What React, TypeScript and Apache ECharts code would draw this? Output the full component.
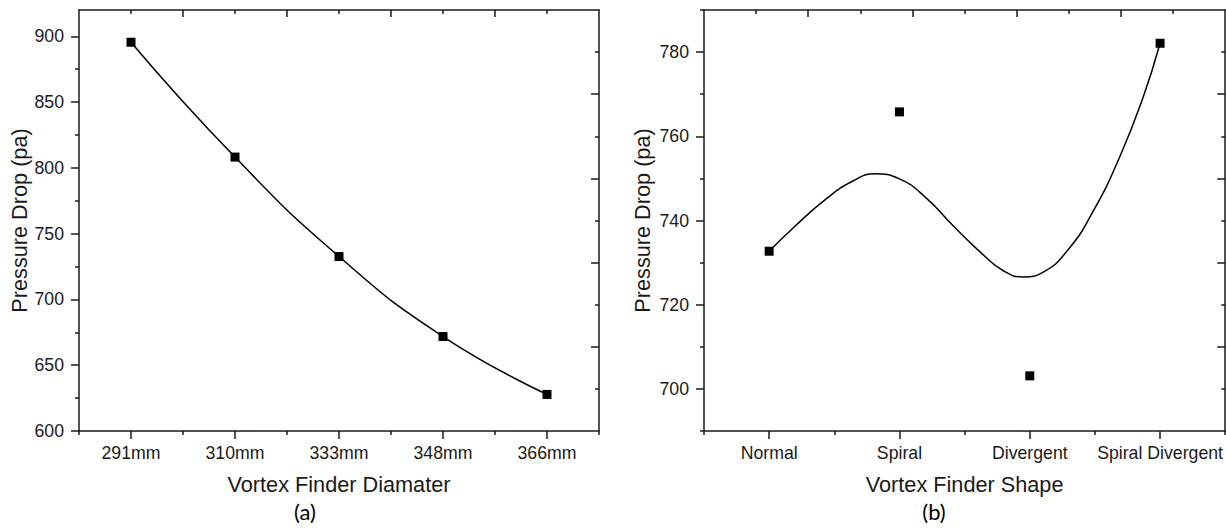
import React, { useEffect, useRef } from "react";
import * as echarts from "echarts";

// ---- Chart (a) data ----
const diameterCategories = ["291mm", "310mm", "333mm", "348mm", "366mm"];
const diameterPressure = [895.5, 808.2, 732.6, 671.8, 627.8];

// ---- Chart (b) data ----
const shapeCategories = ["Normal", "Spiral", "Divergent", "Spiral Divergent"];
const shapePressure = [732.7, 765.8, 703.1, 782.1];
// fitted curve of chart (b) (x in category units)
const shapeCurveX = [0, 0.19, 0.44, 0.65, 0.81, 1.0, 1.21, 1.41, 1.62, 1.8, 1.95, 2.1, 2.29, 2.49, 2.69, 2.87, 3.0];
const shapeCurveY = [732.7, 738.4, 745.2, 749.5, 751.1, 749.9, 745.2, 738.8, 732.5, 728.0, 726.6, 727.7, 732.9, 742.4, 755.1, 769.3, 782.1];

// ---- tick values ----
const aYLabels = [600, 650, 700, 750, 800, 850, 900];
const aYMinor = [625, 675, 725, 775, 825, 875];
const aRightMajor = [664, 728, 792, 856];
const aRightMinor = [632, 696, 760, 824, 888];
const aXLabels = [0, 1, 2, 3, 4];
const aXMinor = [-0.5, 0.5, 1.5, 2.5, 3.5, 4.5];
const aTopMajor = [0.5, 1.5, 2.5, 3.5];
const aTopMinor = [0, 1, 2, 3, 4];

const bYLabels = [700, 720, 740, 760, 780];
const bYMinor = [690, 710, 730, 750, 770, 790];
const bRightMajor = [710, 730, 750, 770];
const bRightMinor = [700, 720, 740, 760, 780];
const bXLabels = [0, 1, 2, 3];
const bXMinor = [-0.5, 0.5, 1.5, 2.5, 3.5];
const bTopMajor = [0.3, 1.1, 1.9, 2.7];
const bTopMinor = [-0.1, 0.7, 1.5, 2.3, 3.1];

const FONT = "'Liberation Sans', Arial, sans-serif";
const INK = "#1a1a1a";

function tickAxis(
  gridIndex: number,
  position: string,
  min: number,
  max: number,
  values: number[],
  length: number,
  inside: boolean,
  showLine: boolean,
  extra: any = {}
) {
  return {
    type: "value",
    gridIndex,
    position,
    min,
    max,
    axisLine: { show: showLine, onZero: false, lineStyle: { color: INK, width: 1.5 } },
    axisTick: {
      show: true,
      inside,
      length,
      customValues: values,
      lineStyle: { color: INK, width: 1.5 },
    },
    axisLabel: { show: false },
    splitLine: { show: false },
    ...extra,
  };
}

export default function App() {
  const ref = useRef<HTMLDivElement>(null);

  useEffect(() => {
    if (!ref.current) return;
    const chart = echarts.init(ref.current, null, { renderer: "svg" });

    const labelStyle = { color: INK, fontFamily: FONT, fontSize: 17.7 };
    const nameStyle = { color: INK, fontFamily: FONT, fontSize: 21.7 };

    const xAxes = [
      // chart (a)
      tickAxis(0, "bottom", -0.5, 4.5, aXLabels, 8, false, true, {
        name: "Vortex Finder Diamater",
        nameLocation: "middle",
        nameGap: 42,
        nameTextStyle: nameStyle,
        axisLabel: {
          show: true,
          customValues: aXLabels,
          margin: 13,
          formatter: (v: number) => diameterCategories[Math.round(v)] ?? "",
          ...labelStyle,
        },
      }),
      tickAxis(0, "bottom", -0.5, 4.5, aXMinor, 4, false, false),
      tickAxis(0, "top", -0.5, 4.5, aTopMajor, 7, true, true),
      tickAxis(0, "top", -0.5, 4.5, aTopMinor, 4, true, false),
      // chart (b)
      tickAxis(1, "bottom", -0.5, 3.5, bXLabels, 8, false, true, {
        name: "Vortex Finder Shape",
        nameLocation: "middle",
        nameGap: 42,
        nameTextStyle: nameStyle,
        axisLabel: {
          show: true,
          customValues: bXLabels,
          margin: 13,
          formatter: (v: number) => shapeCategories[Math.round(v)] ?? "",
          ...labelStyle,
        },
      }),
      tickAxis(1, "bottom", -0.5, 3.5, bXMinor, 4, false, false),
      tickAxis(1, "top", -0.5, 3.5, bTopMajor, 7, true, true),
      tickAxis(1, "top", -0.5, 3.5, bTopMinor, 4, true, false),
    ];

    const yAxes = [
      // chart (a)
      tickAxis(0, "left", 600, 920, aYLabels, 8, false, true, {
        name: "Pressure Drop (pa)",
        nameLocation: "middle",
        nameGap: 47,
        nameTextStyle: nameStyle,
        axisLabel: { show: true, customValues: aYLabels, margin: 15, ...labelStyle },
      }),
      tickAxis(0, "left", 600, 920, aYMinor, 4, false, false),
      tickAxis(0, "right", 600, 920, aRightMajor, 8, true, true),
      tickAxis(0, "right", 600, 920, aRightMinor, 4, true, false),
      // chart (b)
      tickAxis(1, "left", 690, 790, bYLabels, 8, false, true, {
        name: "Pressure Drop (pa)",
        nameLocation: "middle",
        nameGap: 51,
        nameTextStyle: nameStyle,
        axisLabel: { show: true, customValues: bYLabels, margin: 15, ...labelStyle },
      }),
      tickAxis(1, "left", 690, 790, bYMinor, 4, false, false),
      tickAxis(1, "right", 690, 790, bRightMajor, 8, true, true),
      tickAxis(1, "right", 690, 790, bRightMinor, 4, true, false),
    ];

    chart.setOption({
      animation: false,
      backgroundColor: "#ffffff",
      grid: [
        { left: 79, top: 10, width: 520, height: 421, containLabel: false },
        { left: 704, top: 10, width: 521.5, height: 421, containLabel: false },
      ],
      xAxis: xAxes,
      yAxis: yAxes,
      graphic: [
        {
          type: "text",
          x: 305,
          y: 511,
          style: { text: "(a)", font: "22px Lato, sans-serif", fill: "#000", textAlign: "center", textVerticalAlign: "middle" },
        },
        {
          type: "text",
          x: 934,
          y: 511,
          style: { text: "(b)", font: "22px Lato, sans-serif", fill: "#000", textAlign: "center", textVerticalAlign: "middle" },
        },
      ],
      series: [
        {
          type: "line",
          xAxisIndex: 0,
          yAxisIndex: 0,
          data: diameterPressure.map((v, i) => [i, v]),
          smooth: true,
          symbol: "rect",
          symbolSize: 9,
          itemStyle: { color: "#000", opacity: 1 },
          lineStyle: { color: "#000", width: 1.5 },
          z: 5,
        },
        {
          type: "line",
          xAxisIndex: 4,
          yAxisIndex: 4,
          data: shapeCurveX.map((x, i) => [x, shapeCurveY[i]]),
          smooth: true,
          showSymbol: false,
          lineStyle: { color: "#000", width: 1.5 },
          z: 4,
        },
        {
          type: "scatter",
          xAxisIndex: 4,
          yAxisIndex: 4,
          data: shapePressure.map((v, i) => [i, v]),
          symbol: "rect",
          symbolSize: 9,
          itemStyle: { color: "#000", opacity: 1 },
          z: 5,
        },
      ],
    });

    return () => chart.dispose();
  }, []);

  return (
    <div
      ref={ref}
      style={{ position: "absolute", left: 0, top: 0, width: 1226, height: 528, background: "#fff" }}
    />
  );
}
